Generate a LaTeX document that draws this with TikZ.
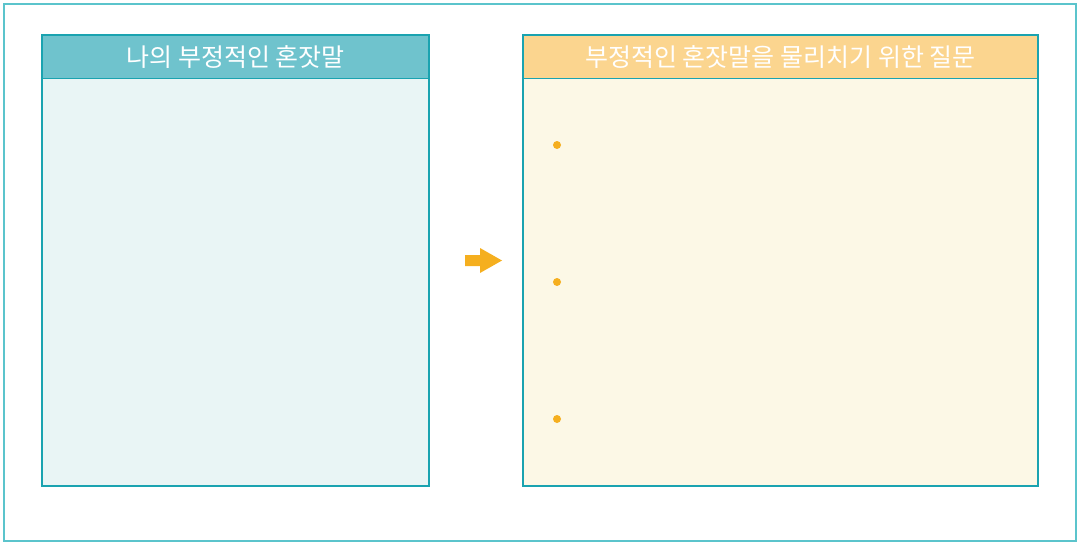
\documentclass[tikz,border=0pt]{standalone}
\usepackage{fontspec}
\newfontfamily\kr{Noto Sans CJK KR}
\definecolor{frame}{HTML}{5BC4CC}
\definecolor{edge}{HTML}{1AA3B0}
\definecolor{headL}{HTML}{6FC3CD}
\definecolor{bodyL}{HTML}{E9F5F5}
\definecolor{headR}{HTML}{FBD58F}
\definecolor{bodyR}{HTML}{FCF8E6}
\definecolor{accent}{HTML}{F5AF1F}
\begin{document}
\begin{tikzpicture}[x=1pt,y=-1pt,
  panel/.style={draw=edge,line width=1.3pt},
  headtext/.style={text=white,font=\kr\fontsize{25}{28}\selectfont,anchor=center,inner sep=0pt},
  bullet/.style={circle,fill=accent,inner sep=0pt,minimum size=8pt}]
\useasboundingbox (0,0) rectangle (1078,543);
\draw[frame,line width=1.3pt] (4,4) rectangle (1076,541);
% left panel
\fill[bodyL] (42,78) rectangle (429,486);
\fill[headL] (42,35) rectangle (429,78);
\draw[panel] (42,35) rectangle (429,486);
\draw[edge,line width=0.8pt] (42,78) -- (429,78);
\node[headtext] (hl) at (235.5,57) {나의 부정적인 혼잣말};
% right panel
\fill[bodyR] (523,78) rectangle (1038,486);
\fill[headR] (523,35) rectangle (1038,78);
\draw[panel] (523,35) rectangle (1038,486);
\draw[edge,line width=0.8pt] (523,78) -- (1038,78);
\node[headtext] (hr) at (780.5,57) {부정적인 혼잣말을 물리치기 위한 질문};
% arrow
\fill[accent] (465,255) -- (480,255) -- (480,248) -- (502,260.5) -- (480,273) -- (480,266) -- (465,266) -- cycle;
% bullets
\node[bullet] (b1) at (557,145) {};
\node[bullet] (b2) at (557,282) {};
\node[bullet] (b3) at (557,419) {};
\end{tikzpicture}
\end{document}
